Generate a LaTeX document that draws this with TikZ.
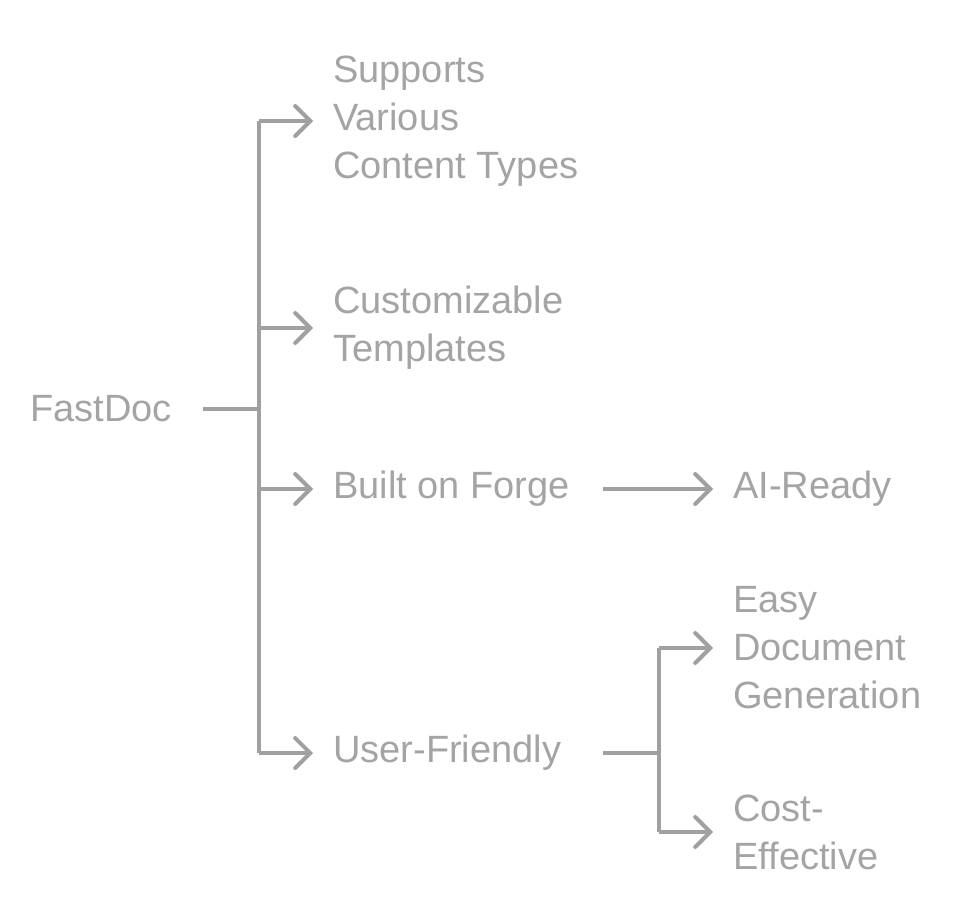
\documentclass[tikz,border=0pt]{standalone}
\usepackage{fontspec}
\setmainfont{Liberation Sans}
\usetikzlibrary{arrows.meta,positioning}
\definecolor{linkgray}{HTML}{A0A0A0}
\definecolor{textgray}{HTML}{A4A4A4}
\begin{document}
\begin{tikzpicture}[x=1pt, y=-1pt,
  label/.style={anchor=west, inner sep=0pt, align=left, text=textgray,
    font=\fontsize{38}{48}\selectfont},
  link/.style={draw=linkgray, line width=4pt},
  arr/.style={link, -{Straight Barb[length=15pt, width=30pt, line width=4pt, line cap=round]}, shorten >=20pt}]
  \useasboundingbox (0,0) rectangle (968,904);

  % Root
  \node[label] (root) at (30,409) {FastDoc};

  % First level
  \node[label] (types) at (333,121) {Supports\\Various\\Content Types};
  \node[label] (tmpl) at (333,328) {Customizable\\Templates};
  \node[label] (forge) at (333,489) {Built on Forge};
  \node[label] (user) at (333,753) {User-Friendly};

  % Second level
  \node[label] (ai) at (733,489) {AI-Ready};
  \node[label] (easy) at (733,648) {Easy\\Document\\Generation};
  \node[label] (cost) at (733,832) {Cost-\\Effective};

  % Junctions
  \coordinate (rootout) at (203,409);
  \coordinate (trunk) at (259,409);
  \coordinate (forgeout) at (603,489);
  \coordinate (userout) at (603,753);
  \coordinate (split) at (659,753);

  % Root to first level
  \draw[link] (rootout) -- (trunk);
  \draw[link] (trunk |- types) -- (trunk |- user);
  \foreach \n in {types, tmpl, forge, user} {
    \draw[arr] (trunk |- \n) -- (\n.west);
  }

  % First to second level
  \draw[arr] (forgeout) -- (ai.west);
  \draw[link] (userout) -- (split);
  \draw[link] (split |- easy) -- (split |- cost);
  \foreach \n in {easy, cost} {
    \draw[arr] (split |- \n) -- (\n.west);
  }
\end{tikzpicture}
\end{document}
